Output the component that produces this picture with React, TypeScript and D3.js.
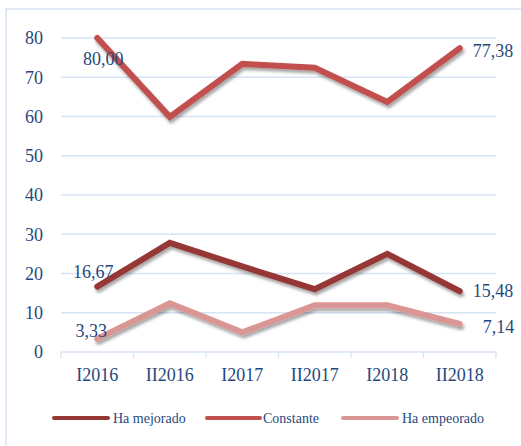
import React from "react";
import * as d3 from "d3";

const categories = ["I2016", "II2016", "I2017", "II2017", "I2018", "II2018"];
const seriesNames = ["Ha mejorado", "Constante", "Ha empeorado"];
const mejorado = [16.67, 27.8, 21.8, 16.0, 25.0, 15.48];
const constante = [80.0, 59.9, 73.4, 72.4, 63.7, 77.38];
const empeorado = [3.33, 12.4, 5.0, 11.9, 11.9, 7.14];
const yTicks = [0, 10, 20, 30, 40, 50, 60, 70, 80];
const colors = ["#953735", "#C0504D", "#D99694"];
// data labels: series index, point index, offset
const labels = [
  { s: 1, i: 0, dx: 6, dy: 27 },
  { s: 1, i: 5, dx: 13, dy: 9 },
  { s: 0, i: 0, dx: -4, dy: -9 },
  { s: 0, i: 5, dx: 13, dy: 6 },
  { s: 2, i: 0, dx: -6, dy: -2 },
  { s: 2, i: 5, dx: 23, dy: 9 },
];

export default function App() {
  const W = 521, H = 446;
  const left = 61, right = 496, top = 38, bottom = 352;
  const data = [mejorado, constante, empeorado];
  const x = d3.scaleBand<string>().domain(categories).range([left, right]);
  const y = d3.scaleLinear().domain([0, 80]).range([bottom, top]);
  const cx = (c: string) => (x(c) as number) + x.bandwidth() / 2;
  const line = d3
    .line<number>()
    .x((_, i) => cx(categories[i]))
    .y((d) => y(d));
  const textColor = "#1F497D";
  const grid = "#D7E4F4";
  const font = "'Liberation Serif', serif";
  const fmt = (v: number) => v.toFixed(2).replace(".", ",");
  const boundaries = categories.map((c) => x(c) as number).concat([right]);
  const legendItems = [
    { x0: 54, x1: 108, tx: 113 },
    { x0: 207, x1: 260, tx: 263 },
    { x0: 343, x1: 397, tx: 402 },
  ];
  return (
    <svg
      width={W}
      height={H}
      style={{ position: "absolute", left: 0, top: 0, background: "#fff" }}
    >
      <defs>
        <filter id="sh" x="-10%" y="-20%" width="130%" height="160%">
          <feDropShadow dx="1.5" dy="3" stdDeviation="1.8" floodColor="#000" floodOpacity="0.35" />
        </filter>
      </defs>
      <rect x={6} y={9} width={700} height={700} fill="#fff" stroke={grid} strokeWidth={1.5} />
      {yTicks.map((t) => (
        <g key={t}>
          <line x1={left} x2={right} y1={y(t)} y2={y(t)} stroke={grid} strokeWidth={1.3} />
          <text
            x={43}
            y={y(t)}
            dy="0.35em"
            textAnchor="end"
            fontFamily={font}
            fontSize={18}
            fill={textColor}
          >
            {t}
          </text>
        </g>
      ))}
      {boundaries.map((b, i) => (
        <line key={i} x1={b} x2={b} y1={bottom} y2={bottom + 6} stroke={grid} strokeWidth={1.3} />
      ))}
      {categories.map((c) => (
        <text
          key={c}
          x={cx(c)}
          y={381}
          textAnchor="middle"
          fontFamily={font}
          fontSize={18}
          fill={textColor}
        >
          {c}
        </text>
      ))}
      {data.map((d, s) => (
        <path
          key={s}
          d={line(d) as string}
          fill="none"
          stroke={colors[s]}
          strokeWidth={6}
          strokeLinejoin="miter"
          strokeLinecap="round"
          filter="url(#sh)"
        />
      ))}
      {labels.map((l, k) => {
        const v = data[l.s][l.i];
        const px = cx(categories[l.i]);
        const py = y(v);
        return (
          <text
            key={k}
            x={px + l.dx}
            y={py + l.dy}
            textAnchor={l.i === 0 ? "middle" : "start"}
            fontFamily={font}
            fontSize={18}
            fill={textColor}
          >
            {fmt(v)}
          </text>
        );
      })}
      {seriesNames.map((n, s) => (
        <g key={n}>
          <line
            x1={legendItems[s].x0}
            x2={legendItems[s].x1}
            y1={418}
            y2={418}
            stroke={colors[s]}
            strokeWidth={4}
            strokeLinecap="round"
          />
          <text
            x={legendItems[s].tx}
            y={418}
            dy="0.35em"
            fontFamily={font}
            fontSize={14}
            fill={textColor}
          >
            {n}
          </text>
        </g>
      ))}
    </svg>
  );
}
